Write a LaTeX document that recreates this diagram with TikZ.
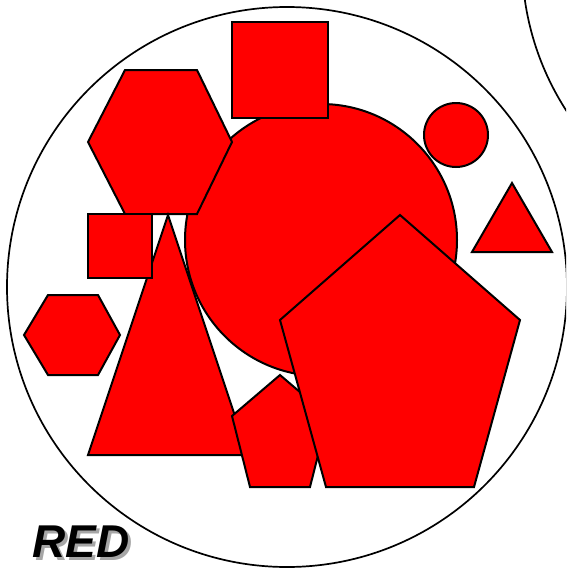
\documentclass[tikz,border=0pt]{standalone}
\usepackage{fontspec}
\setmainfont{Liberation Sans}
\begin{document}
\begin{tikzpicture}[x=1pt,y=-1pt,
  shp/.style={fill=red,draw=black,line width=2pt,line join=miter},
  ring/.style={draw=black,line width=1.7pt},
  lbl/.style={font=\fontsize{46}{46}\selectfont\bfseries\itshape,inner sep=0pt,anchor=base west}]
\useasboundingbox (0,0) rectangle (566,568);
\begin{scope}
\clip (0,0) rectangle (566,568);
\draw[ring] (800,-40) circle (278);
\draw[ring,fill=white] (287,287) circle (280);
\end{scope}
\path[shp] (321,240) circle (136) node (bigcircle) {};
\path[shp] (125,70) -- (197,70) -- (232,142) -- (197,214) -- (125,214) -- (88,142) -- cycle;
\coordinate (hexa) at (160,142);
\path[shp] (232,22) rectangle (328,118);
\coordinate (sqtop) at (280,70);
\path[shp] (168,215) -- (248,455) -- (88,455) -- cycle;
\coordinate (bigtri) at (168,375);
\path[shp] (88,214) rectangle (152,278);
\coordinate (sqleft) at (120,246);
\path[shp] (280,375) -- (328,416) -- (310,487) -- (250,487) -- (232,416) -- cycle;
\coordinate (smallpent) at (280,437);
\path[shp] (400,215) -- (520,320) -- (474,487) -- (326,487) -- (280,320) -- cycle;
\coordinate (bigpent) at (400,380);
\path[shp] (456,135) circle (32);
\coordinate (smallcircle) at (456,135);
\path[shp] (512,183) -- (552,252) -- (472,252) -- cycle;
\coordinate (smalltri) at (512,225);
\path[shp] (48,295) -- (98,295) -- (120,335) -- (98,375) -- (48,375) -- (24,335) -- cycle;
\coordinate (hexleft) at (72,335);
\node[lbl] (red) at (32,557) {\makebox[0pt][l]{\hspace{3pt}\raisebox{-3pt}{\color{black!35}RED}}RED};
\end{tikzpicture}
\end{document}
